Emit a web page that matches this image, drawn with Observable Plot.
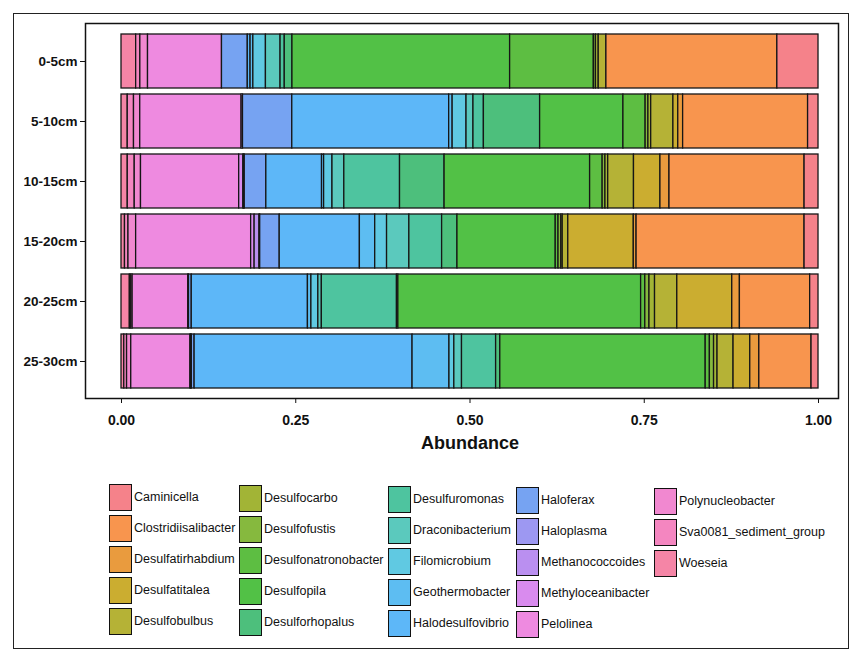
<!DOCTYPE html>
<html>
<head>
<meta charset="utf-8">
<script src="https://cdn.jsdelivr.net/npm/d3@7"></script>
<script src="https://cdn.jsdelivr.net/npm/@observablehq/plot@0.6"></script>
<style>
  html, body { margin: 0; padding: 0; background: #fff; }
  #wrap { position: relative; width: 854px; height: 652px; overflow: hidden; font-family: "Liberation Sans", Arial, sans-serif; }
  #chart { position: absolute; left: 0; top: 0; }
  #border { position: absolute; left: 13px; top: 13px; width: 834px; height: 634px; border: 1.5px solid #222; pointer-events: none; }
  .key { position: absolute; width: 23px; height: 27px; border: 1.5px solid #111; box-sizing: border-box; }
  .lab { position: absolute; font-size: 12.5px; color: #111; white-space: nowrap; line-height: 27px; }
</style>
</head>
<body>
<div id="wrap">
  <div id="chart"></div>
  <div id="legend"></div>
  <div id="border"></div>
</div>
<script>
// ---- data ----
const depths = ["0-5cm", "5-10cm", "10-15cm", "15-20cm", "20-25cm", "25-30cm"];
const genera = [
  "Caminicella", "Clostridiisalibacter", "Desulfatirhabdium", "Desulfatitalea", "Desulfobulbus",
  "Desulfocarbo", "Desulfofustis", "Desulfonatronobacter", "Desulfopila", "Desulforhopalus",
  "Desulfuromonas", "Draconibacterium", "Filomicrobium", "Geothermobacter", "Halodesulfovibrio",
  "Haloferax", "Haloplasma", "Methanococcoides", "Methyloceanibacter", "Pelolinea",
  "Polynucleobacter", "Sva0081_sediment_group", "Woeseia"
];
// relative abundance per depth, aligned with `genera`
const ab_0_5   = [.059,.245,0,0,.011,.004,.003,.120,.312,.011,.006,.021,.018,.004,.004,.037,0,0,0,.106,.011,.006,.021];
const ab_5_10  = [.015,.180,.007,.007,.032,.004,.004,.032,.120,.081,.015,.010,.020,.005,.226,.071,0,0,.002,.146,.009,.009,.009];
const ab_10_15 = [.020,.194,.013,.038,.037,.004,.004,.018,.209,.064,.080,.017,.012,.003,.080,.031,.001,.001,.006,.141,.009,.010,.009];
const ab_15_20 = [.020,.241,.004,.094,.008,.002,.004,.004,.141,.022,.047,.032,.017,.022,.115,.028,.001,.007,.005,.165,.011,.005,.005];
const ab_20_25 = [.012,.101,.011,.079,.032,.008,.006,.006,.349,.002,.108,.005,.010,.005,.167,.004,0,0,.001,.080,.002,.002,.012];
const ab_25_30 = [.010,.075,.013,.024,.023,.005,.006,.006,.295,.006,.049,.011,.007,.053,.313,.004,0,.001,.001,.085,.006,.004,.004];
const abundances = [ab_0_5, ab_5_10, ab_10_15, ab_15_20, ab_20_25, ab_25_30];
const xTicks = [0, 0.25, 0.5, 0.75, 1];

// ---- fill colours (hue wheel as it appears in the reference) ----
const palette = [
  "#F5828A", "#F8954E", "#E99B3E", "#CBAD30", "#B5B236",
  "#A2B436", "#86B93E", "#5DBE42", "#52C146", "#4DBF7C",
  "#4EC49F", "#5BC9BD", "#60C9E2", "#5DBDF2", "#5DB7F8",
  "#76A3F2", "#9D98F2", "#BA8FF0", "#D98BEE", "#EE8AE0",
  "#F188D0", "#F486C0", "#F585A6"
];
const n = genera.length;

// long table; stacked left->right in reverse legend order (ggplot fill order)
const rows = [];
depths.forEach((d, di) => {
  for (let i = n - 1; i >= 0; i--) {
    rows.push({depth: d, genus: genera[i], value: abundances[di][i]});
  }
});

const chart = Plot.plot({
  width: 854,
  height: 460,
  marginLeft: 85,
  marginRight: 16,
  marginTop: 23,
  marginBottom: 62,
  style: {fontFamily: "'Liberation Sans', Arial, sans-serif", background: "transparent", color: "#111"},
  x: {domain: [-0.05165, 1.02869]},
  y: {domain: depths, paddingInner: 0.1, paddingOuter: 0.15, align: 0.5},
  color: {domain: genera, range: palette},
  marks: [
    Plot.barX(rows, Plot.stackX({x: "value", y: "depth", fill: "genus", offset: "normalize", stroke: "#161616", strokeWidth: 1.3})),
    Plot.frame({stroke: "#111", strokeWidth: 1.5}),
    Plot.axisY({tickSize: 5, tickPadding: 3, fontWeight: "bold", fontSize: 13.5, label: null}),
    Plot.axisX({ticks: xTicks, tickFormat: d3.format(".2f"), tickSize: 5, tickPadding: 12, fontWeight: "bold", fontSize: 14, label: null}),
    Plot.text(["Abundance"], {x: () => 0.5, frameAnchor: "bottom", dy: 50, fontWeight: "bold", fontSize: 18})
  ]
});
document.getElementById("chart").appendChild(chart);

// ---- legend (5 columns, column-major like ggplot) ----
const legend = document.getElementById("legend");
const colX = [109, 239, 388, 516, 654];
const rowTop = 484, rowStep = 31, perCol = 5;
genera.forEach((g, i) => {
  const c = Math.floor(i / perCol), r = i % perCol;
  const top = rowTop + r * rowStep + c;
  const key = document.createElement("div");
  key.className = "key";
  key.style.left = colX[c] + "px";
  key.style.top = top + "px";
  key.style.background = palette[i];
  legend.appendChild(key);
  const lab = document.createElement("div");
  lab.className = "lab";
  lab.style.left = (colX[c] + 25) + "px";
  lab.style.top = top + "px";
  lab.textContent = g;
  legend.appendChild(lab);
});
</script>
</body>
</html>
